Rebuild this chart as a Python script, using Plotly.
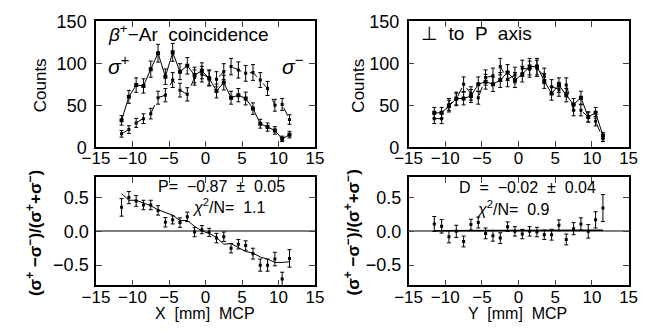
import plotly.graph_objects as go

x_pos = [-11.5, -10.5, -9.5, -8.5, -7.5, -6.5, -5.5, -4.5, -3.5, -2.5, -1.5, -0.5,
         0.5, 1.5, 2.5, 3.5, 4.5, 5.5, 6.5, 7.5, 8.5, 9.5, 10.5, 11.5]

# Top-left: counts along X for sigma+ and sigma-
sig_plus_x = [32, 60, 74, 73, 93, 112, 84, 113, 90, 97, 86, 91, 82, 67, 77, 59, 62, 58, 46, 28, 24, 20, 10, 15]
sig_plus_x_err = [5.7, 7.7, 8.6, 8.5, 9.6, 10.6, 9.2, 10.6, 9.5, 9.8, 9.3, 9.5, 9.1, 8.2, 8.8, 7.7, 7.9, 7.6, 6.8, 5.3, 4.9, 4.5, 3.2, 3.9]
sig_minus_x = [16, 21, 29, 34, 40, 59, 62, 80, 68, 63, 83, 87, 83, 81, 90, 96, 92, 88, 89, 80, 70, 50, 51, 33]
sig_minus_x_err = [4.0, 4.6, 5.4, 5.8, 6.3, 7.7, 7.9, 8.9, 8.2, 7.9, 9.1, 9.3, 9.1, 9.0, 9.5, 9.8, 9.6, 9.4, 9.4, 8.9, 8.4, 7.1, 7.1, 5.7]

# Top-right: counts along Y
sig_plus_y = [41, 41, 49, 58, 58, 61, 75, 78, 75, 80, 89, 80, 87, 96, 96, 79, 64, 74, 62, 51, 59, 36, 41, 14]
sig_plus_y_err = [6.4, 6.4, 7.0, 7.6, 7.6, 7.8, 8.7, 8.8, 8.7, 8.9, 9.4, 8.9, 9.3, 9.8, 9.8, 8.9, 8.0, 8.6, 7.9, 7.1, 7.7, 6.0, 6.4, 3.7]
sig_minus_y = [34, 34, 51, 57, 75, 64, 59, 83, 85, 96, 81, 86, 94, 93, 94, 85, 72, 69, 74, 44, 44, 36, 31, 10]
sig_minus_y_err = [5.8, 5.8, 7.1, 7.5, 8.7, 8.0, 7.7, 9.1, 9.2, 9.8, 9.0, 9.3, 9.7, 9.6, 9.7, 9.2, 8.5, 8.3, 8.6, 6.6, 6.6, 6.0, 5.6, 3.2]

# Bottom-left: asymmetry along X with fit
asym_x = [0.355, 0.50, 0.45, 0.39, 0.39, 0.31, 0.135, 0.17, 0.13, 0.215, -0.01, 0.025,
          -0.015, -0.10, -0.08, -0.25, -0.19, -0.21, -0.33, -0.50, -0.50, -0.41, -0.705, -0.40]
asym_x_err = [0.13, 0.09, 0.08, 0.07, 0.07, 0.07, 0.07, 0.06, 0.07, 0.07, 0.07, 0.06,
              0.06, 0.07, 0.07, 0.07, 0.07, 0.07, 0.08, 0.09, 0.09, 0.10, 0.10, 0.13]
fit_x = [0.56, 0.46, 0.46, 0.425, 0.38, 0.32, 0.275, 0.24, 0.16, 0.16, 0.075, 0.005,
         -0.03, -0.09, -0.19, -0.18, -0.24, -0.30, -0.32, -0.38, -0.41, -0.46, -0.46, -0.45]

# Bottom-right: asymmetry along Y with fit
asym_y = [0.11, 0.075, -0.08, 0.0, -0.15, 0.10, 0.13, -0.03, -0.065, -0.10, 0.07, 0.0,
          -0.04, 0.0, -0.01, -0.05, -0.05, 0.09, -0.12, 0.04, 0.11, 0.0, 0.17, 0.345]
asym_y_err = [0.11, 0.10, 0.09, 0.09, 0.08, 0.08, 0.08, 0.08, 0.08, 0.08, 0.07, 0.07,
              0.07, 0.07, 0.07, 0.07, 0.08, 0.08, 0.08, 0.09, 0.09, 0.10, 0.12, 0.20]
fit_y = [0.01, 0.01, 0.01, 0.01, 0.01, 0.01, 0.01, 0.01, 0.01, 0.01, 0.01, 0.01,
         0.012, 0.012, 0.013, 0.013, 0.014, 0.014, 0.015, 0.015, 0.016, 0.016, 0.017, 0.017]

x_ticks = [-15, -10, -5, 0, 5, 10, 15]
y_ticks_counts = [0, 50, 100, 150]
y_ticks_asym = [-0.5, 0.0, 0.5]

FONT = "Liberation Sans, Arial, sans-serif"
TICKFONT = dict(family=FONT, size=18, color="black")
XTICKFONT = dict(family=FONT, size=17, color="black")

fig = go.Figure()


def err_trace(x, y, e, dash, xa, ya, ms=4):
    return go.Scatter(
        x=x, y=y, mode="lines+markers",
        line=dict(color="black", width=1, dash=dash),
        marker=dict(symbol="square", size=ms, color="black"),
        error_y=dict(type="data", array=e, visible=True, color="black", thickness=1, width=2),
        xaxis=xa, yaxis=ya, showlegend=False,
    )


fig.add_trace(err_trace(x_pos, sig_minus_x, sig_minus_x_err, "dash", "x", "y", 3))
fig.add_trace(err_trace(x_pos, sig_plus_x, sig_plus_x_err, "solid", "x", "y"))
fig.add_trace(err_trace(x_pos, sig_minus_y, sig_minus_y_err, "dash", "x2", "y2", 3))
fig.add_trace(err_trace(x_pos, sig_plus_y, sig_plus_y_err, "solid", "x2", "y2"))

# asymmetry points
for xa, ya, a, e in [("x3", "y3", asym_x, asym_x_err), ("x4", "y4", asym_y, asym_y_err)]:
    fig.add_trace(go.Scatter(
        x=x_pos, y=a, mode="markers",
        marker=dict(symbol="square", size=3, color="black"),
        error_y=dict(type="data", array=e, visible=True, color="black", thickness=1, width=2),
        xaxis=xa, yaxis=ya, showlegend=False,
    ))
fig.add_trace(go.Scatter(x=x_pos, y=fit_x, mode="lines", line=dict(color="black", width=1),
                         xaxis="x3", yaxis="y3", showlegend=False))
fig.add_trace(go.Scatter(x=x_pos, y=fit_y, mode="lines", line=dict(color="black", width=1.5),
                         xaxis="x4", yaxis="y4", showlegend=False))

W, H = 654, 333
xl = [85 / W, 312 / W]
xr = [409 / W, 637 / W]
yt = [1 - 146 / H, 1 - 12 / H]
yb = [1 - 293 / H, 1 - 178 / H]


def xax(dom, anchor):
    return dict(domain=dom, anchor=anchor, range=[-15, 15], tickvals=x_ticks,
                ticks="inside", ticklen=6, tickwidth=1, mirror="ticks", showline=True,
                linecolor="black", linewidth=1.5, showgrid=False, zeroline=False,
                tickfont=XTICKFONT, ticklabelstandoff=-5)


def yax_top(dom, anchor):
    return dict(domain=dom, anchor=anchor, range=[0, 150], tickvals=y_ticks_counts,
                ticks="inside", ticklen=6, tickwidth=1, mirror="ticks", showline=True,
                linecolor="black", linewidth=1.5, showgrid=False, zeroline=False,
                tickfont=TICKFONT, ticklabelstandoff=4)


def yax_bot(dom, anchor):
    return dict(domain=dom, anchor=anchor, range=[-0.8, 0.8], tickvals=y_ticks_asym,
                tickformat=".1f",
                ticks="inside", ticklen=6, tickwidth=1, mirror="ticks", showline=True,
                linecolor="black", linewidth=1.5, showgrid=False,
                zeroline=True, zerolinecolor="#808080", zerolinewidth=1.5,
                tickfont=TICKFONT, ticklabelstandoff=2)


fig.update_layout(
    width=W, height=H, margin=dict(l=0, r=0, t=0, b=0),
    paper_bgcolor="white", plot_bgcolor="white",
    font=dict(family=FONT, color="black"),
    xaxis=xax(xl, "y"), yaxis=yax_top(yt, "x"),
    xaxis2=xax(xr, "y2"), yaxis2=yax_top(yt, "x2"),
    xaxis3=xax(xl, "y3"), yaxis3=yax_bot(yb, "x3"),
    xaxis4=xax(xr, "y4"), yaxis4=yax_bot(yb, "x4"),
)

ann = []


def pa(x, y, text, size=16, angle=0, xanchor="center"):
    ann.append(dict(x=x / W, y=1 - y / H, xref="paper", yref="paper", text=text,
                    showarrow=False, textangle=angle, xanchor=xanchor, yanchor="middle",
                    borderpad=0,
                    font=dict(family=FONT, size=size, color="black")))


pa(27, 80, "Counts", 17, -90)
pa(357, 80, "Counts", 17, -90)
ylab = "<b>(σ<sup>+</sup> −σ<sup>−</sup>)/(σ<sup>+</sup>+σ<sup>−</sup>)</b>"
pa(20, 237, ylab, 17, -90)
pa(350, 237, ylab, 17, -90)
pa(198, 323, "X  [mm]  MCP", 16)
pa(522, 323, "Y  [mm]  MCP", 16)
pa(96, 25, "<i>β</i><sup>+</sup>−Ar  coincidence", 19, 0, "left")
pa(96, 58, "<i>σ</i><sup>+</sup>", 21, 0, "left")
pa(277, 58, "<i>σ</i><sup>−</sup>", 21, 0, "left")
pa(421, 25, "⊥  to  P  axis", 19, 0, "left")
pa(148, 188, "P=  −0.87  ±  0.05", 16, 0, "left")
pa(183, 208, "<i>χ</i><sup>2</sup>/N=  1.1", 16, 0, "left")
pa(460, 189, "D  =  −0.02  ±  0.04", 16, 0, "left")
pa(478, 211, "<i>χ</i><sup>2</sup>/N=  0.9", 16, 0, "left")

fig.update_layout(annotations=ann)

fig.write_html("out.html")
